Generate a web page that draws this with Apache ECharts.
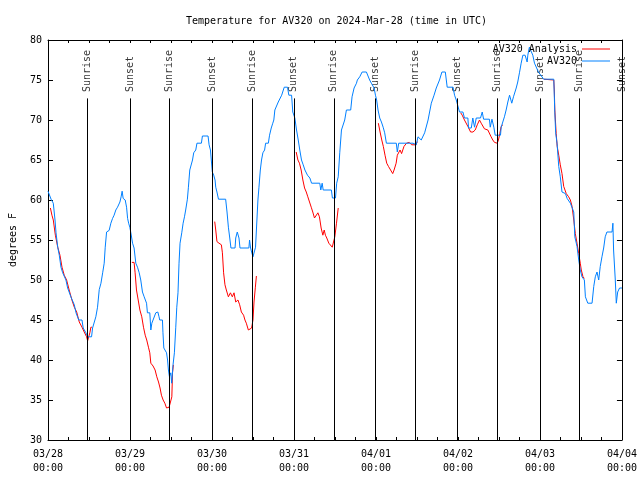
<!DOCTYPE html>
<html><head><meta charset="utf-8">
<script src="https://cdn.jsdelivr.net/npm/echarts@6/dist/echarts.min.js"></script>
<style>html,body{margin:0;padding:0;background:#fff}#c{width:640px;height:480px}</style>
</head><body><div id="c"></div>
<script>
// x values are hours after 2024-03-28 00:00 UTC
const dayLabels = ['03/28\n00:00','03/29\n00:00','03/30\n00:00','03/31\n00:00','04/01\n00:00','04/02\n00:00','04/03\n00:00','04/04\n00:00'];
const sunriseHours = [11.48, 35.44, 59.69, 83.65, 107.6, 131.57, 155.5];
const sunsetHours = [24.05, 48.0, 71.96, 95.92, 119.9, 144.1, 168.0];

const av320 = [
[0,61.1],[0.9,60.1],[1.55,59.6],[2.05,57.5],[2.35,55.9],[2.85,54.1],[3.3,53.1],[3.8,51.6],[4.3,50.9],[5.25,50],[5.75,49],[6.7,47.9],[7.7,46.9],[8.2,45.9],[9.0,45],[9.95,45],[10.3,44],[11.1,43.4],[11.6,42.9],[12.75,42.9],[13.05,44],[13.5,44],[14.0,45.4],[14.5,46.6],[15.0,48.8],[15.5,49.6],[16.0,50.9],[16.45,52.1],[16.75,54.1],[17.15,56],[17.55,56],[17.9,56.2],[18.4,57.1],[18.9,57.7],[19.35,58.1],[19.85,58.75],[20.35,59.1],[20.85,59.1],[21.05,59.75],[21.4,60.4],[21.7,61.1],[22.0,60.2],[22.6,60],[23.0,59.1],[23.3,57.7],[23.6,57.1],[23.95,56.6],[24.25,55.9],[24.75,54.6],[25.2,54],[25.7,52.1],[26.2,51.6],[26.7,50.9],[27.15,50],[27.65,48.5],[28.15,47.9],[28.85,47.1],[29.1,45.9],[29.8,45.9],[30.1,43.75],[30.4,44.6],[30.75,45],[31.55,45.9],[32.15,46],[32.5,45.4],[32.7,45],[33.5,45],[33.65,43.4],[33.9,41.5],[34.25,41.25],[34.7,40.9],[35.0,40],[35.25,38.75],[35.55,37.9],[35.95,38.4],[36.2,37.1],[36.6,39.4],[37.0,40.9],[37.4,44.1],[37.7,46.6],[38.05,48.4],[38.35,52.1],[38.65,54.6],[39.15,55.9],[39.55,57.1],[39.95,57.9],[40.3,58.75],[40.8,60.1],[41.1,61.6],[41.5,63.75],[42.3,65],[42.65,65.9],[43.25,66.25],[43.6,67.1],[44.9,67.1],[45.2,68],[46.85,68],[47.15,66.9],[47.55,66.25],[47.85,64.75],[48.1,63.5],[48.5,63.1],[48.9,62.5],[49.1,61.6],[49.45,61],[49.9,60.1],[52.0,60.1],[52.4,58.5],[52.8,56.6],[53.2,55.25],[53.55,54],[54.75,54],[54.95,55.25],[55.4,56],[55.9,55.25],[56.2,54],[58.8,54],[59.0,55],[59.3,54],[59.6,53.5],[60.0,52.9],[60.4,52.9],[60.75,54.1],[61.15,57.5],[61.45,60],[61.75,61.6],[62.15,63.75],[62.5,65],[62.9,65.9],[63.4,66.25],[63.7,67.1],[64.5,67.1],[64.85,68.1],[65.35,69],[65.8,69.6],[66.1,70],[66.4,71.25],[67.4,72.25],[68.4,73.1],[69.15,74.1],[70.1,74.1],[70.5,73.1],[71.3,73.1],[71.65,71],[72.25,70.25],[72.75,68.75],[73.25,67.5],[73.7,66.25],[74.2,65],[74.7,64.4],[75.2,63.75],[75.95,63.1],[76.65,62.75],[77.15,62.1],[79.55,62.1],[79.85,61.25],[80.25,62.1],[80.55,61.25],[82.95,61.25],[83.25,60.25],[84.15,60.25],[84.5,62.1],[84.95,62.9],[85.4,65.9],[85.9,68.75],[86.85,70],[87.35,71.25],[88.6,71.25],[89.0,72.9],[89.6,74],[90.3,74.6],[90.55,75],[91.25,75.4],[91.95,76],[92.5,75.9],[93.2,76],[93.7,75.9],[94.15,75],[94.65,74.6],[95.45,74],[95.85,73.1],[96.2,72.5],[96.6,71.25],[97.1,70.25],[97.6,69.75],[98.1,69.1],[98.55,68.4],[99.05,67.1],[101.95,67.1],[102.25,66],[102.65,67.1],[106.85,67.1],[107.8,66.9],[108.3,67.9],[109.25,67.5],[110.25,68.4],[111.25,70],[111.7,71],[112.2,72.1],[113.0,73.1],[113.65,74],[114.15,74.1],[114.6,75],[115.3,76],[116.3,76],[116.85,74.1],[118.55,74.1],[119.0,73.1],[119.5,72.5],[120.45,71],[121.45,71],[121.9,70.25],[122.9,70.25],[123.1,69],[123.9,69],[124.35,70.25],[124.85,69.1],[125.35,70.25],[126.6,70.25],[127.1,71],[127.5,70.1],[129.2,70.1],[129.45,69.1],[129.95,70.1],[130.5,69.1],[130.9,68.1],[132.45,68.1],[132.65,69.1],[133.15,69.1],[133.6,70.4],[134.1,71.25],[134.6,72.25],[135.1,73.1],[135.75,72.1],[136.25,72.9],[137.05,74],[137.5,74.75],[138.0,75.9],[138.5,77.1],[139.0,78.1],[139.65,78.1],[140.25,77.25],[140.45,78.1],[140.9,79.1],[141.4,79.1],[141.9,78.1],[142.4,77.1],[143.55,76],[144.1,75.8],[145.1,75.1],[148.05,75.1],[148.35,70.9],[148.6,68.4],[149.0,67.1],[149.5,64.2],[149.95,62.9],[150.45,61],[151.45,60.8],[151.95,60.2],[152.9,59.6],[153.9,58.5],[154.2,55.4],[154.85,54.2],[155.35,52.5],[155.8,51.25],[156.3,50.4],[157.0,50],[157.3,47.9],[158.0,47.1],[159.25,47.1],[159.75,49.2],[160.2,50.4],[160.7,51],[161.2,50],[161.65,51.7],[162.15,52.9],[162.65,54],[163.1,55.4],[163.6,56],[165.1,56],[165.35,57.1],[165.55,53.75],[166.05,50],[166.35,47.1],[166.75,48.5],[167.3,49],[168.0,49]
];

// null temperature = gap in the analysis series
const av320Analysis = [
[0.7,59],[1.15,58.1],[1.55,57.5],[2.15,55.6],[2.85,54.1],[3.5,53.1],[4.1,51.6],[4.75,50.6],[5.45,50],[6.2,48.75],[7.0,47.5],[7.7,46.6],[8.4,46],[9.15,44.75],[9.95,44.1],[10.6,43.5],[11.3,42.9],[11.6,42.4],[12.05,42.4],[12.25,43.4],[12.55,44.1],[12.85,44.1],[13,null],
[24.55,52.2],[25.2,52.2],[25.5,50.9],[25.9,48.75],[26.5,47.25],[26.9,46.25],[27.45,45.4],[27.95,44.1],[28.45,43.1],[28.9,42.5],[29.4,41.6],[29.8,40.9],[30.1,39.6],[30.75,39.25],[31.35,38.75],[31.85,37.9],[32.35,37.25],[32.8,36.5],[33.2,35.6],[33.7,35],[34.2,34.6],[34.7,34],[35.0,33.75],[35.45,34.1],[35.95,34.1],[36.25,35.4],[36.45,38.4],[36.7,39.4],[37,null],
[48.8,57.3],[49.1,56.25],[49.45,54.8],[50.05,54.6],[50.75,54.4],[51.05,53.4],[51.4,50.9],[51.8,49.4],[52.2,48.75],[52.8,47.9],[53.4,48.4],[53.95,47.9],[54.45,48.4],[54.95,47.25],[55.6,47.5],[56.1,46.9],[56.6,46],[57.25,45.6],[57.65,45],[58.05,44.6],[58.65,43.75],[59.1,44],[59.6,44],[60.0,45],[60.3,47.25],[60.7,49.1],[61.0,50.5],[61.2,null],
[72.65,66],[73.15,65],[73.6,64.6],[74.1,63.75],[74.6,62.5],[75.1,61.5],[75.6,61],[76.05,60.4],[76.55,59.75],[77.05,59.1],[77.5,58.5],[78.0,57.75],[78.5,57.5],[79.0,58.4],[79.45,57.9],[79.95,56.5],[80.45,55.6],[80.85,56.25],[81.2,55.6],[81.6,55.25],[82.2,54.6],[82.6,54.4],[83.2,54.1],[83.55,54.1],[83.95,55.4],[84.45,57.1],[84.95,59],[85.2,null],
[96.7,69.6],[97.2,68.5],[97.7,67.5],[98.15,66.7],[98.65,65.6],[99.15,64.6],[99.65,64.2],[100.15,64],[100.9,63.3],[101.3,63.75],[101.9,64.6],[102.25,65.6],[103.05,66.25],[103.5,65.8],[104.2,66.7],[104.95,67.1],[105.75,67.2],[106.45,66.9],[106.95,66.75],[107.7,66.9],[108.1,67.3],[108.3,null],
[120.8,70.9],[121.25,70.6],[121.9,70],[122.9,69.2],[123.7,68.5],[124.4,68.5],[125.05,68.75],[125.65,69.4],[126.3,70],[126.8,69.6],[127.75,68.9],[128.75,68.75],[129.25,68.5],[129.7,67.9],[130.2,67.5],[130.7,67.2],[131.5,67.1],[131.85,67.5],[132.25,68.3],[132.65,69.2],[133.15,69.4],[133.4,null],
[145.1,75.1],[148.05,75],[148.2,73.75],[148.35,71.25],[148.75,68.3],[149.05,66.7],[149.5,65.6],[149.95,64.4],[150.45,63.3],[150.95,61.7],[151.7,60.8],[152.4,60.4],[152.9,60],[153.4,59.2],[153.9,57.5],[154.35,55.8],[154.85,54.6],[155.35,53.3],[155.8,52.1],[156.1,51.25],[156.6,50.4],[157.0,50.2]
];

const FONT = 'DejaVu Sans Mono';
const txt = {fontFamily: FONT, fontSize: 10, color: '#000'};
const LINE_BOTTOM = 30, LINE_TOP = 72.7, LABEL_AT = 73.5;

const markLines = [];
sunriseHours.forEach(h => markLines.push([{coord: [h, LINE_BOTTOM]}, {coord: [h, LINE_TOP]}]));
sunsetHours.forEach(h => markLines.push([{coord: [h, LINE_BOTTOM]}, {coord: [h, LINE_TOP]}]));

const eventLabels = sunriseHours.map(h => ({value: [h, LABEL_AT], name: 'Sunrise'}))
  .concat(sunsetHours.map(h => ({value: [h, LABEL_AT], name: 'Sunset'})));

const axisCommonX = {type: 'value', min: 0, max: 168, interval: 6,
  axisLine: {show: true, onZero: false, lineStyle: {color: '#000', width: 1}},
  axisTick: {show: true, inside: true, length: 3, lineStyle: {color: '#000'}},
  splitLine: {show: false}};
const axisCommonY = {type: 'value', min: 30, max: 80, interval: 5,
  axisLine: {show: true, onZero: false, lineStyle: {color: '#000', width: 1}},
  axisTick: {show: true, inside: true, length: 5, lineStyle: {color: '#000'}},
  splitLine: {show: false}};

const chart = echarts.init(document.getElementById('c'), null, {renderer: 'canvas'});
chart.setOption({
  animation: false,
  backgroundColor: '#fff',
  title: {text: 'Temperature for AV320 on 2024-Mar-28 (time in UTC)', left: 181, top: 11,
    textStyle: Object.assign({fontWeight: 'normal'}, txt)},
  legend: [
    {data: ['AV320 Analysis'], right: 30, top: 44, align: 'right', icon: 'rect', itemWidth: 28, itemHeight: 1, padding: 0, textStyle: txt},
    {data: ['AV320'], right: 30, top: 56, align: 'right', icon: 'rect', itemWidth: 28, itemHeight: 1, padding: 0, textStyle: txt}
  ],
  grid: {left: 46, right: 18, top: 40, bottom: 40, containLabel: false},
  xAxis: [
    Object.assign({}, axisCommonX, {position: 'bottom',
      axisLabel: Object.assign({margin: 7, lineHeight: 14, formatter: v => (v % 24 === 0 ? dayLabels[v / 24] : '')}, txt)}),
    Object.assign({}, axisCommonX, {position: 'top', axisLabel: {show: false}})
  ],
  yAxis: [
    Object.assign({}, axisCommonY, {position: 'left', name: 'degrees F', nameLocation: 'middle', nameGap: 30, nameRotate: 90,
      nameTextStyle: txt, axisLabel: Object.assign({margin: 6}, txt)}),
    Object.assign({}, axisCommonY, {position: 'right', axisLabel: {show: false}})
  ],
  series: [
    {type: 'line', name: 'events', data: [], silent: true,
      markLine: {symbol: 'none', silent: true, label: {show: false}, animation: false,
        lineStyle: {color: '#000', width: 1, type: 'solid'}, data: markLines}},
    {type: 'scatter', name: 'eventLabels', data: eventLabels, symbolSize: 0, silent: true,
      label: Object.assign({show: true, formatter: p => p.name, position: [0, 0], rotate: 90, align: 'left', verticalAlign: 'middle'}, txt)},
    {type: 'line', name: 'AV320 Analysis', data: av320Analysis, showSymbol: false, connectNulls: false,
      color: '#ff0000', lineStyle: {color: '#ff0000', width: 1}},
    {type: 'line', name: 'AV320', data: av320, showSymbol: false,
      color: '#0080ff', lineStyle: {color: '#0080ff', width: 1}}
  ]
});
</script></body></html>
